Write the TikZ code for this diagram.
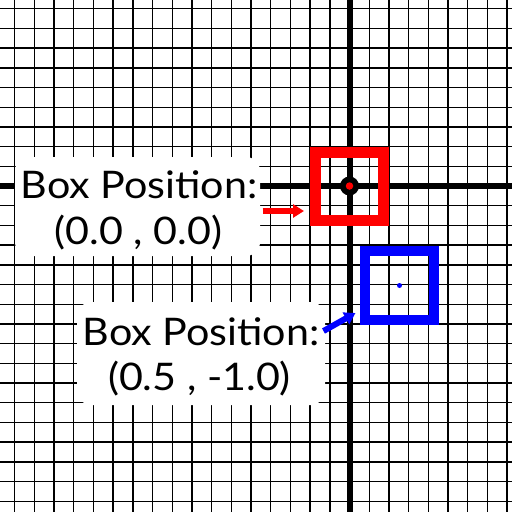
\documentclass[tikz,border=0pt]{standalone}
\usepackage{fontspec}
\setmainfont{Lato}[FakeStretch=1.085]
\usetikzlibrary{arrows.meta}
\begin{document}
\begin{tikzpicture}[x=1pt,y=-1pt,
  gridline/.style={line width=1.4pt, black},
  axisline/.style={line width=6pt, black},
  labelbg/.style={fill=white, draw=none, rounded corners=14pt, inner sep=0pt},
  labeltext/.style={font=\fontsize{38}{44}\selectfont, inner sep=0pt, anchor=base, text=black},
  posbox/.style={fill=none, inner sep=0pt},
  dot/.style={circle, inner sep=0pt},
  pointer/.style={line width=6pt, -{Triangle[length=11pt,width=13pt]}}
]
\useasboundingbox (0,0) rectangle (512,512);
\clip (0,0) rectangle (512,512);
\fill[white] (0,0) rectangle (512,512);
% grid
\foreach \k in {-17,...,8} \draw[gridline] ({349.5+\k*19.7},0) -- ({349.5+\k*19.7},512);
\foreach \k in {-9,...,16} \draw[gridline] (0,{186+\k*19.7}) -- (512,{186+\k*19.7});
% axes
\draw[axisline] (349.5,0) -- (349.5,512);
\draw[axisline] (0,186) -- (512,186);
% label backgrounds
\node[labelbg, minimum width=245pt, minimum height=99pt] (bg1) at (137.5,206.5) {};
\node[labelbg, minimum width=248pt, minimum height=103pt] (bg2) at (201,353.5) {};
% label texts
\node[labeltext] (t1a) at (139,198) {Box Position:};
\node[labeltext] (t1b) at (138.5,244) {(0.0 , 0.0)};
\node[labeltext] (t2a) at (201,345) {Box Position:};
\node[labeltext] (t2b) at (199.5,390) {(0.5 , -1.0)};
% boxes
\node[posbox, draw=red, line width=11pt, minimum size=68pt] (redbox) at (349.5,186.5) {};
\node[posbox, draw=blue, line width=10pt, minimum size=69pt] (bluebox) at (399.5,285) {};
% origin marker
\node[dot, fill=black, minimum size=19pt] (origin) at (349.5,186) {};
\node[dot, fill=red, minimum size=7.5pt] (origindot) at (349.5,186) {};
\node[dot, fill=blue, minimum size=5pt] (bluedot) at (399.5,285.5) {};
% arrows
\coordinate (ra) at (262.5,211);
\coordinate (rb) at (304,211);
\coordinate (ba) at (323.5,331);
\coordinate (bb) at (355.5,313);
\draw[pointer, red] (ra) -- (rb);
\draw[pointer, blue] (ba) -- (bb);
\end{tikzpicture}
\end{document}
